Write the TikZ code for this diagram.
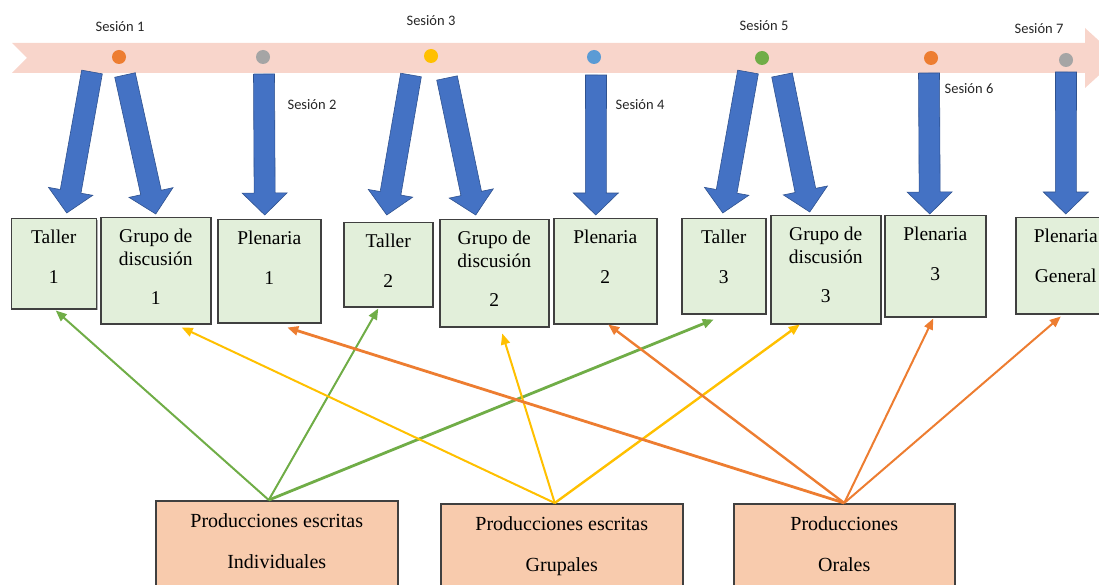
\documentclass[tikz,border=0pt]{standalone}
\usepackage{fontspec}
\setmainfont{Liberation Serif}
\newfontfamily\sesfont{Carlito}
\usepackage{tikz}
\usetikzlibrary{arrows.meta, positioning, calc, shadows}
\definecolor{bandpink}{RGB}{248,213,203}
\definecolor{boxgreen}{RGB}{226,239,218}
\definecolor{boxorange}{RGB}{248,203,173}
\definecolor{boxedge}{RGB}{64,64,64}
\definecolor{arrowblue}{RGB}{68,114,196}
\definecolor{arrowedge}{RGB}{47,82,143}
\definecolor{lineorange}{RGB}{237,125,49}
\definecolor{linegreen}{RGB}{112,173,71}
\definecolor{lineyellow}{RGB}{255,192,0}
\definecolor{dotblue}{RGB}{91,155,213}
\definecolor{dotgrey}{RGB}{165,165,165}
\newcommand{\boxtext}[3]{\parbox[c][#2pt][t]{#1pt}{\centering#3}}
\newcommand{\sesarrow}[2]{%
  \coordinate (ba) at #1;
  \coordinate (bb) at #2;
  \coordinate (bh) at ($(bb)!22pt!(ba)$);
  \filldraw[blockarrow] ($(ba)!10.5pt!90:(bb)$) -- ($(bh)!10.5pt!90:(bb)$)
    -- ($(bh)!22.5pt!90:(bb)$) -- (bb) -- ($(bh)!22.5pt!-90:(bb)$)
    -- ($(bh)!10.5pt!-90:(bb)$) -- ($(ba)!10.5pt!-90:(bb)$) -- cycle;}

\begin{document}
\begin{tikzpicture}[x=1pt, y=-1pt,
    blockarrow/.style={fill=arrowblue, draw=arrowedge, line width=0.6pt},
    dot/.style={circle, inner sep=0, minimum size=14pt},
    seslabel/.style={font=\sesfont\fontsize{14.5}{17}\selectfont, text=black!85},
    topbox/.style={draw=boxedge, line width=1.5pt, fill=boxgreen, inner sep=0, anchor=north west,
      drop shadow={shadow xshift=1.5pt, shadow yshift=-1.5pt, opacity=.3, fill=black},
      font=\fontsize{19.5}{23}\selectfont},
    prodbox/.style={draw=boxedge, line width=1.5pt, fill=boxorange, inner sep=0, anchor=north west,
      font=\fontsize{20}{23}\selectfont},
    conn/.style={line width=2pt, -{Triangle[length=11pt,width=9pt]}}]
  \useasboundingbox (0,0) rectangle (1099,585);

  % timeline
  \fill[bandpink] (12,43) -- (1085,43) -- (1085,28) -- (1118,58) -- (1085,88)
    -- (1085,73) -- (12,73) -- (27,58) -- cycle;
  \node[dot, fill=lineorange] (d1) at (119,57) {};
  \node[dot, fill=dotgrey] (d2) at (263,57) {};
  \node[dot, fill=lineyellow] (d3) at (431,56) {};
  \node[dot, fill=dotblue] (d4) at (594,57) {};
  \node[dot, fill=linegreen] (d5) at (762,58) {};
  \node[dot, fill=lineorange] (d6) at (931,58) {};
  \node[dot, fill=dotgrey] (d7) at (1066,60) {};

  \node[seslabel] (s1) at (120,27) {Sesión 1};
  \node[seslabel] (s2) at (312,105) {Sesión 2};
  \node[seslabel] (s3) at (431,21) {Sesión 3};
  \node[seslabel] (s4) at (640,105) {Sesión 4};
  \node[seslabel] (s5) at (764,26) {Sesión 5};
  \node[seslabel] (s6) at (969,89) {Sesión 6};
  \node[seslabel] (s7) at (1039,29) {Sesión 7};

  % activities
  \node[topbox] (t1) at (10.5,218) {\boxtext{85}{90}{\rule{0pt}{25pt}Taller\\[17pt]1}};
  \node[topbox] (g1) at (100,217) {\boxtext{110}{106}{\rule{0pt}{25pt}Grupo de\\discusión\\[16pt]1}};
  \node[topbox] (p1) at (217,219) {\boxtext{103}{103}{\rule{0pt}{25pt}Plenaria\\[17pt]1}};
  \node[topbox] (t2) at (343,222) {\boxtext{89}{84}{\rule{0pt}{25pt}Taller\\[17pt]2}};
  \node[topbox] (g2) at (439,219) {\boxtext{109}{107}{\rule{0pt}{25pt}Grupo de\\discusión\\[16pt]2}};
  \node[topbox] (p2) at (553,218) {\boxtext{103}{105}{\rule{0pt}{25pt}Plenaria\\[17pt]2}};
  \node[topbox] (t3) at (681,218) {\boxtext{84}{95}{\rule{0pt}{25pt}Taller\\[17pt]3}};
  \node[topbox] (g3) at (770,215) {\boxtext{110}{108}{\rule{0pt}{25pt}Grupo de\\discusión\\[16pt]3}};
  \node[topbox] (p3) at (884,215) {\boxtext{101}{101}{\rule{0pt}{25pt}Plenaria\\[17pt]3}};
  \node[topbox] (pg) at (1015,217) {\boxtext{100}{96}{\rule{0pt}{25pt}Plenaria\\[17pt]General}};

  % session arrows
  \foreach \d/\dx/\dy/\b/\ex/\ey in {d1/-27/15/t1/13/-5, d1/6/18/g1/0/-3, d2/1/17/p1/-4.5/-4,
      d3/-20/19/t2/-1.5/-7, d3/16/22/g2/-18.5/-4, d4/2/18/p2/-9.5/-3, d5/-14/14/t3/-1/-5,
      d5/20/17/g3/-16/-3, d6/-2/15/p3/-5.5/-1, d7/0/12/pg/0/-3}
    {\sesarrow{($(\d)+(\dx,\dy)$)}{($(\b.north)+(\ex,\ey)$)}}

  % productions
  \node[prodbox] (ind) at (155,500) {\boxtext{242}{100}{\rule{0pt}{27pt}Producciones escritas\\[18pt]Individuales}};
  \node[prodbox] (grp) at (440,503) {\boxtext{242}{100}{\rule{0pt}{27pt}Producciones escritas\\[18pt]Grupales}};
  \node[prodbox] (ora) at (733,503) {\boxtext{221}{100}{\rule{0pt}{27pt}Producciones\\[18pt]Orales}};

  \coordinate (gsrc) at ($(ind.north)+(-8,0)$);
  \coordinate (ysrc) at ($(grp.north)+(-7,0)$);
  \coordinate (osrc) at (ora.north);

  \foreach \to/\dx/\dy/\w in {t1/2/1/2, t2/-10/1/2, t3/-10/5/2.8}
    \draw[conn, linegreen, line width=\w pt] (gsrc) -- ($(\to.south)+(\dx,\dy)$);
  \foreach \to/\dx/\dy/\w in {g1/26/3/2, g2/8/6/2, g3/-26/0/2.4}
    \draw[conn, lineyellow, line width=\w pt] (ysrc) -- ($(\to.south)+(\dx,\dy)$);
  \foreach \to/\dx/\dy/\w in {p1/18/4/2.8, p2/3/0/2.4, p3/-2/1/2, pg/-5/2/2}
    \draw[conn, lineorange, line width=\w pt] (osrc) -- ($(\to.south)+(\dx,\dy)$);
\end{tikzpicture}
\end{document}
